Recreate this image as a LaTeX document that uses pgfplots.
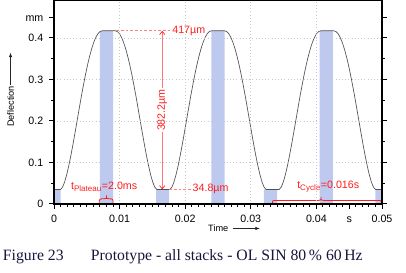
\documentclass[border=0pt]{standalone}
\usepackage{pgfplots}
\pgfplotsset{compat=1.18}
\usepackage{fontspec}
\setmainfont{Liberation Sans}
\newfontfamily\capfont{Liberation Serif}
\usetikzlibrary{arrows.meta}
\definecolor{bandblue}{RGB}{190,201,240}
\definecolor{annred}{RGB}{255,28,28}
\definecolor{curvecol}{RGB}{80,80,80}
\definecolor{capcol}{RGB}{22,22,60}
% #1 flat height, #2 end radius, #3 left x, #4 tip x, #5 right x
\newcommand\redbrace[5]{%
 \draw[annred, line width=0.6pt] (axis cs:#3,0) .. controls ([yshift=#1]axis cs:#3,0) .. ([xshift=#2,yshift=#1]axis cs:#3,0) -- ([xshift=-2pt,yshift=#1]axis cs:#4,0) .. controls ([yshift=#1]axis cs:#4,0) .. ([yshift=#1+2.5pt]axis cs:#4,0) .. controls ([yshift=#1]axis cs:#4,0) .. ([xshift=2pt,yshift=#1]axis cs:#4,0) -- ([xshift=-#2,yshift=#1]axis cs:#5,0) .. controls ([yshift=#1]axis cs:#5,0) .. (axis cs:#5,0);}
\begin{document}
\begin{tikzpicture}
\begin{axis}[
  name=ax, scale only axis, width=246pt, height=152.5pt,
  xmin=0, xmax=0.05, ymin=0, ymax=0.49,
  axis on top, clip=false,
  scaled x ticks=false, scaled y ticks=false,
  axis line style={line width=1pt},
  tick align=outside,
  xtick={0,0.01,0.02,0.03,0.04,0.05},
  xticklabels={0,0.01,0.02,0.03,0.04,0.05},
  ytick={0,0.1,0.2,0.3,0.4},
  yticklabels={0,0.1,0.2,0.3,0.4},
  minor x tick num=9, minor y tick num=1,
  extra x ticks={0.045}, extra x tick labels={s},
  extra y ticks={0.45}, extra y tick labels={mm},
  extra tick style={grid=none},
  grid=major,
  major grid style={gray!45, dotted, line width=0.5pt},
  major tick length=3.5pt, minor tick length=2pt,
  tick style={black, line width=0.7pt},
  /pgf/number format/assume math mode=true,
  tick label style={font=\fontsize{8}{9}\selectfont},
  xticklabel style={text height=5.8pt, text depth=0pt, yshift=-1.5pt},
  yticklabel style={text height=5.8pt, text depth=0pt, xshift=-1pt},
]
% bands
\addplot[fill=bandblue, draw=none] coordinates {(0,0) (0,0.0348) (0.001,0.0348) (0.001,0)} \closedcycle;
\addplot[fill=bandblue, draw=none] coordinates {(0.01555,0) (0.01555,0.0348) (0.01755,0.0348) (0.01755,0)} \closedcycle;
\addplot[fill=bandblue, draw=none] coordinates {(0.0320,0) (0.0320,0.0348) (0.0340,0.0348) (0.0340,0)} \closedcycle;
\addplot[fill=bandblue, draw=none] coordinates {(0.0490,0) (0.0490,0.0348) (0.0500,0.0348) (0.0500,0)} \closedcycle;
\addplot[fill=bandblue, draw=none] coordinates {(0.0070,0) (0.0070,0.417) (0.0090,0.417) (0.0090,0)} \closedcycle;
\addplot[fill=bandblue, draw=none] coordinates {(0.0240,0) (0.0240,0.417) (0.0260,0.417) (0.0260,0)} \closedcycle;
\addplot[fill=bandblue, draw=none] coordinates {(0.0405,0) (0.0405,0.417) (0.0425,0.417) (0.0425,0)} \closedcycle;
% deflection curve
\addplot[curvecol, line width=0.5pt] coordinates {
(0,0.0348) (0.001,0.0348) (0.001317,0.0406) (0.001633,0.0533) (0.00195,0.0711) (0.002267,0.0927) (0.002583,0.1174) (0.0029,0.1442) (0.003217,0.1724) (0.003533,0.2013) (0.00385,0.2303) (0.004167,0.2589) (0.004483,0.2858) (0.0048,0.3115) (0.005117,0.3350) (0.005433,0.3559) (0.00575,0.3743) (0.006067,0.3895) (0.006383,0.4016) (0.0067,0.4102) (0.007017,0.4152) (0.007333,0.4170)
(0.009333,0.4170) (0.00965,0.4152) (0.009967,0.4102) (0.010283,0.4016) (0.0106,0.3895) (0.010917,0.3743) (0.011233,0.3559) (0.01155,0.3350) (0.011867,0.3115) (0.012183,0.2858) (0.0125,0.2589) (0.012817,0.2303) (0.013133,0.2013) (0.01345,0.1724) (0.013767,0.1442) (0.014083,0.1174) (0.0144,0.0927) (0.014717,0.0711) (0.015033,0.0533) (0.01535,0.0406) (0.015667,0.0348)
(0.017667,0.0348) (0.017983,0.0406) (0.0183,0.0533) (0.018617,0.0711) (0.018933,0.0927) (0.01925,0.1174) (0.019567,0.1442) (0.019883,0.1724) (0.0202,0.2013) (0.020517,0.2303) (0.020833,0.2589) (0.02115,0.2858) (0.021467,0.3115) (0.021783,0.3350) (0.0221,0.3559) (0.022417,0.3743) (0.022733,0.3895) (0.02305,0.4016) (0.023367,0.4102) (0.023683,0.4152) (0.024,0.4170)
(0.026,0.4170) (0.026317,0.4152) (0.026633,0.4102) (0.02695,0.4016) (0.027267,0.3895) (0.027583,0.3743) (0.0279,0.3559) (0.028217,0.3350) (0.028533,0.3115) (0.02885,0.2858) (0.029167,0.2589) (0.029483,0.2303) (0.0298,0.2013) (0.030117,0.1724) (0.030433,0.1442) (0.03075,0.1174) (0.031067,0.0927) (0.031383,0.0711) (0.0317,0.0533) (0.032017,0.0406) (0.032333,0.0348)
(0.034333,0.0348) (0.03465,0.0406) (0.034967,0.0533) (0.035283,0.0711) (0.0356,0.0927) (0.035917,0.1174) (0.036233,0.1442) (0.03655,0.1724) (0.036867,0.2013) (0.037183,0.2303) (0.0375,0.2589) (0.037817,0.2858) (0.038133,0.3115) (0.03845,0.3350) (0.038767,0.3559) (0.039083,0.3743) (0.0394,0.3895) (0.039717,0.4016) (0.040033,0.4102) (0.04035,0.4152) (0.040667,0.4170)
(0.042667,0.4170) (0.042983,0.4152) (0.0433,0.4102) (0.043617,0.4016) (0.043933,0.3895) (0.04425,0.3743) (0.044567,0.3559) (0.044883,0.3350) (0.0452,0.3115) (0.045517,0.2858) (0.045833,0.2589) (0.04615,0.2303) (0.046467,0.2013) (0.046783,0.1724) (0.0471,0.1442) (0.047417,0.1174) (0.047733,0.0927) (0.04805,0.0711) (0.048367,0.0533) (0.048683,0.0406) (0.049,0.0348) (0.05,0.0348)
};
% annotations
\draw[annred!55, line width=0.5pt, dash pattern=on 2pt off 1.5pt] (axis cs:0.0095,0.417) -- (axis cs:0.0178,0.417);
\node[annred, anchor=west, inner sep=0, font=\fontsize{8}{9}\selectfont] at (axis cs:0.0180,0.417) {417µm};
\draw[annred!55, line width=0.5pt, dash pattern=on 2pt off 1.5pt] (axis cs:0.0176,0.0348) -- (axis cs:0.0210,0.0348);
\node[annred, anchor=west, inner sep=0, font=\fontsize{8}{9}\selectfont] at (axis cs:0.0211,0.0356) {34.8µm};
\draw[annred!60, line width=0.5pt, {Straight Barb[length=2.5pt,width=4pt,color=annred]}-{Straight Barb[length=2.5pt,width=4pt,color=annred]}] (axis cs:0.0165,0.0348) -- (axis cs:0.0165,0.417);
\node[annred, rotate=90, fill=white, inner sep=1pt, font=\fontsize{8}{9}\selectfont] at (axis cs:0.0165,0.226) {382.2µm};
\node[annred, inner sep=0, font=\fontsize{8}{9}\selectfont] at (axis cs:0.00765,0.041) {t\textsubscript{Plateau}=2.0ms};
\redbrace{3.8pt}{3pt}{0.0069}{0.0080}{0.0090}
\node[annred, inner sep=0, font=\fontsize{8}{9}\selectfont] at (axis cs:0.0418,0.041) {t\textsubscript{Cycle}=0.016s};
\redbrace{2.6pt}{2.5pt}{0.0333}{0.0407}{0.0499}
\end{axis}
% axis labels
\node[rotate=90, inner sep=0, font=\fontsize{6.9}{8}\selectfont] at (-32.6pt,73pt) {Deflection};
\draw[line width=0.5pt, black!85, -{Latex[length=3.5pt,width=2.6pt]}] (-32.6pt,89.5pt) -- (-32.6pt,113.5pt);
\node[inner sep=0, font=\fontsize{6.9}{8}\selectfont] at (123.2pt,-18.45pt) {Time};
\draw[line width=0.5pt, black!85, -{Latex[length=3.5pt,width=2.6pt]}] (134.2pt,-18.45pt) -- (154.5pt,-18.45pt);
% caption
\node[anchor=base west, inner sep=0, text=capcol, font=\capfont\fontsize{11.8}{13}\selectfont] at (-38.5pt,-42.2pt) {Figure 23};
\node[anchor=base west, inner sep=0, text=capcol, font=\capfont\fontsize{11.8}{13}\selectfont] at (27.5pt,-42.2pt) {Prototype - all stacks - OL SIN 80\,\% 60\,Hz};
\pgfresetboundingbox
\useasboundingbox (-40.5pt,-51.2pt) rectangle (264pt,152.9pt);
\end{tikzpicture}
\end{document}
